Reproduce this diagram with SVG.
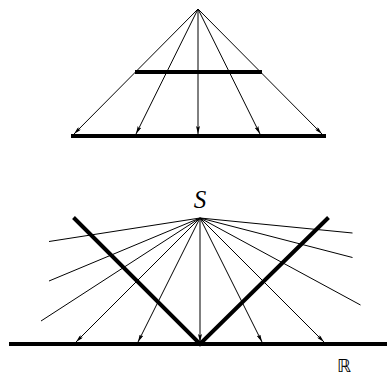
<svg xmlns="http://www.w3.org/2000/svg" width="387" height="378" viewBox="0 0 387 378">
  <style>
    .bar { stroke: #000; stroke-width: 4; fill: none; stroke-linecap: butt; }
    .ray { stroke: #000; stroke-width: 1; fill: none; }
    .arr { marker-end: url(#ah); }
    .lbl { fill: #000; }
  </style>
  <defs>
    <marker id="ah" viewBox="0 0 8 4" refX="8" refY="2" markerWidth="8" markerHeight="4" markerUnits="userSpaceOnUse" orient="auto">
      <path d="M0,0 L8,2 L0,4 L1.5,2 Z" fill="#000"/>
    </marker>
  </defs>
  <rect width="387" height="378" fill="#fff"/>

  <g id="connectors">
    <!-- top diagram rays -->
    <line class="ray arr" x1="198" y1="9" x2="74" y2="134"/>
    <line class="ray arr" x1="198" y1="9" x2="136" y2="134"/>
    <line class="ray arr" x1="198" y1="9" x2="198" y2="134"/>
    <line class="ray arr" x1="198" y1="9" x2="260" y2="134"/>
    <line class="ray arr" x1="198" y1="9" x2="322" y2="134"/>
    <!-- bottom diagram rays -->
    <line class="ray" x1="200" y1="218" x2="49" y2="241.5"/>
    <line class="ray" x1="200" y1="218" x2="49" y2="281"/>
    <line class="ray" x1="200" y1="218" x2="41" y2="321"/>
    <line class="ray arr" x1="200" y1="218" x2="76" y2="342"/>
    <line class="ray arr" x1="200" y1="218" x2="138" y2="342"/>
    <line class="ray arr" x1="200" y1="218" x2="200" y2="342"/>
    <line class="ray arr" x1="200" y1="218" x2="262" y2="342"/>
    <line class="ray arr" x1="200" y1="218" x2="324" y2="342"/>
    <line class="ray" x1="200" y1="218" x2="352.5" y2="233"/>
    <line class="ray" x1="200" y1="218" x2="352.5" y2="257.5"/>
    <line class="ray" x1="200" y1="218" x2="360.5" y2="305"/>
  </g>

  <g id="top-middle-bar">
    <line class="bar" x1="135" y1="72" x2="262" y2="72"/>
  </g>
  <g id="top-screen">
    <line class="bar" x1="71" y1="136" x2="326" y2="136"/>
  </g>

  <g id="v-mirror">
    <polyline class="bar" points="73.5,217.5 200,344 328.5,217.5" stroke-width="4.5" stroke-linejoin="miter"/>
  </g>
  <g id="ground">
    <line class="bar" x1="9" y1="344" x2="387" y2="344"/>
    <text class="lbl" x="344" y="372" font-family="DejaVu Sans, sans-serif" font-size="18" text-anchor="middle">ℝ</text>
  </g>
  <g id="source-S">
    <text class="lbl" x="200" y="208" font-family="Liberation Serif, serif" font-style="italic" font-size="25" text-anchor="middle">S</text>
  </g>
</svg>
